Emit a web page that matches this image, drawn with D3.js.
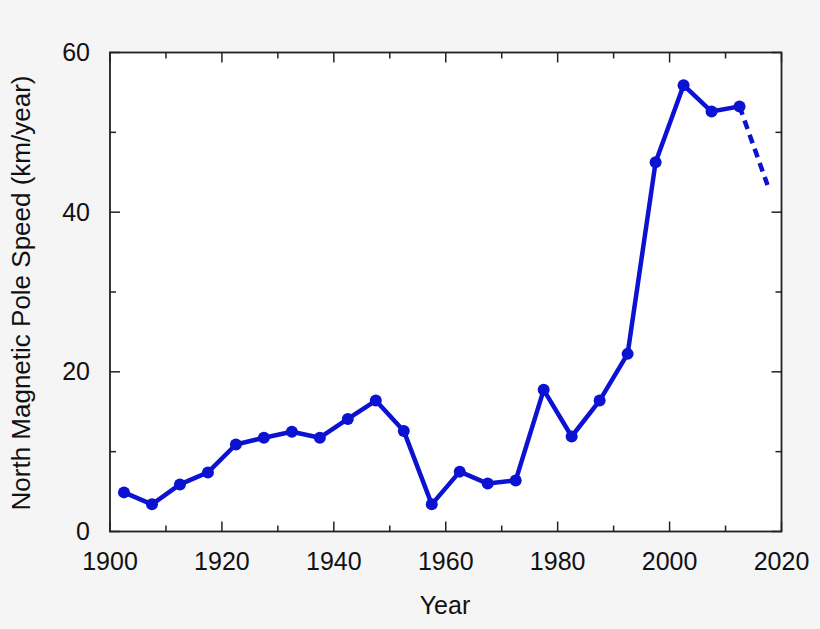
<!DOCTYPE html>
<html><head><meta charset="utf-8">
<script src="https://cdn.jsdelivr.net/npm/d3@7"></script>
<style>html,body{margin:0;padding:0;background:#f5f5f5;}svg{display:block;}</style>
</head><body>
<svg id="c" width="820" height="629"></svg>
<script>
const years = [1902.5,1907.5,1912.5,1917.5,1922.5,1927.5,1932.5,1937.5,1942.5,1947.5,1952.5,1957.5,1962.5,1967.5,1972.5,1977.5,1982.5,1987.5,1992.5,1997.5,2002.5,2007.5,2012.5];
const speeds = [4.9,3.4,5.9,7.4,10.9,11.75,12.5,11.75,14.1,16.4,12.6,3.4,7.5,6.0,6.4,17.75,11.9,16.4,22.25,46.25,55.9,52.6,53.25];
const projYears = [2012.5,2017.5];
const projSpeeds = [53.25,43.4];
const xTicks = [1900,1920,1940,1960,1980,2000,2020];
const yTicks = [0,20,40,60];

const svg = d3.select("#c");
const L=110,R=781.5,T=52.5,B=531.5;
const x = d3.scaleLinear().domain([1900,2020]).range([L,R]);
const y = d3.scaleLinear().domain([0,60]).range([B,T]);
const col="#0c12d2";
const font="'Liberation Sans', Arial, Helvetica, sans-serif";
const fs=25;

svg.append("rect").attr("x",L).attr("y",T).attr("width",R-L).attr("height",B-T).attr("fill","#fff");

const g = svg.append("g");
const minorX = d3.range(1900,2021,10), minorY = d3.range(0,61,10);
minorX.forEach(v=>{
  const len = (v%20===0)?10:6;
  g.append("line").attr("x1",x(v)).attr("x2",x(v)).attr("y1",B).attr("y2",B-len).attr("stroke","#222").attr("stroke-width",1.5);
  g.append("line").attr("x1",x(v)).attr("x2",x(v)).attr("y1",T).attr("y2",T+len).attr("stroke","#222").attr("stroke-width",1.5);
});
minorY.forEach(v=>{
  const len = (v%20===0)?10:6;
  g.append("line").attr("x1",L).attr("x2",L+len).attr("y1",y(v)).attr("y2",y(v)).attr("stroke","#222").attr("stroke-width",1.5);
  g.append("line").attr("x1",R).attr("x2",R-len).attr("y1",y(v)).attr("y2",y(v)).attr("stroke","#222").attr("stroke-width",1.5);
});
svg.append("rect").attr("x",L).attr("y",T).attr("width",R-L).attr("height",B-T).attr("fill","none").attr("stroke","#222").attr("stroke-width",1.8);

xTicks.forEach(v=>{
  svg.append("text").attr("x",x(v)).attr("y",570).attr("text-anchor","middle")
    .attr("font-family",font).attr("font-size",fs).attr("fill","#111").text(v);
});
yTicks.forEach(v=>{
  svg.append("text").attr("x",90).attr("y",y(v)+8.5).attr("text-anchor","end")
    .attr("font-family",font).attr("font-size",fs).attr("fill","#111").text(v);
});
svg.append("text").attr("x",445).attr("y",614).attr("text-anchor","middle")
  .attr("font-family",font).attr("font-size",fs).attr("fill","#111").text("Year");
svg.append("text").attr("transform",`translate(30,293) rotate(-90)`).attr("text-anchor","middle")
  .attr("font-family",font).attr("font-size",26).attr("fill","#111").text("North Magnetic Pole Speed (km/year)");

const data = years.map((d,i)=>[d,speeds[i]]);
const proj = projYears.map((d,i)=>[d,projSpeeds[i]]);
const line = d3.line().x(d=>x(d[0])).y(d=>y(d[1]));
svg.append("path").attr("d",line(proj)).attr("fill","none").attr("stroke",col).attr("stroke-width",4.5).attr("stroke-dasharray","9,6");
svg.append("path").attr("d",line(data)).attr("fill","none").attr("stroke",col).attr("stroke-width",4.5).attr("stroke-linejoin","round");
svg.selectAll("circle.p").data(data).enter().append("circle").attr("class","p")
  .attr("cx",d=>x(d[0])).attr("cy",d=>y(d[1])).attr("r",6).attr("fill",col);
</script>
</body></html>
